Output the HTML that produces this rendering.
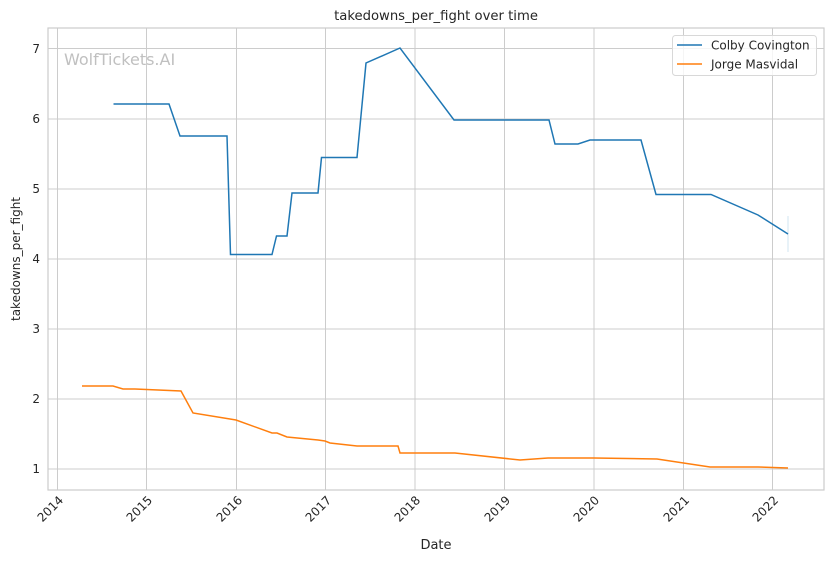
<!DOCTYPE html>
<html><head><meta charset="utf-8"><style>
body{margin:0;background:#fff;}
text{font-family:"DejaVu Sans","Liberation Sans",sans-serif;fill:#262626;}
</style></head><body>
<svg width="832" height="561" viewBox="0 0 832 561" xmlns="http://www.w3.org/2000/svg">
<rect width="832" height="561" fill="#fff"/>
<g stroke="#cccccc" stroke-width="1">
<line x1="57.5" y1="28" x2="57.5" y2="490"/><line x1="146.5" y1="28" x2="146.5" y2="490"/>
<line x1="236.5" y1="28" x2="236.5" y2="490"/><line x1="325.5" y1="28" x2="325.5" y2="490"/>
<line x1="415" y1="28" x2="415" y2="490"/><line x1="504.5" y1="28" x2="504.5" y2="490"/>
<line x1="594" y1="28" x2="594" y2="490"/><line x1="683.5" y1="28" x2="683.5" y2="490"/>
<line x1="772.5" y1="28" x2="772.5" y2="490"/>
<line x1="48" y1="48.5" x2="824" y2="48.5"/><line x1="48" y1="119" x2="824" y2="119"/>
<line x1="48" y1="189" x2="824" y2="189"/><line x1="48" y1="259" x2="824" y2="259"/>
<line x1="48" y1="329" x2="824" y2="329"/><line x1="48" y1="399" x2="824" y2="399"/>
<line x1="48" y1="469" x2="824" y2="469"/>
</g>
<rect x="48" y="28" width="776" height="462" fill="none" stroke="#cccccc" stroke-width="1.2"/>
<text x="64" y="65" font-size="16" style="fill:#c0c0c0">WolfTickets.AI</text>
<polyline fill="none" stroke="#1f77b4" stroke-width="1.5" points="113.5,104 169,104 180,136 227,136 230.5,254.5 272,254.5 276.5,236 287,236 292,193 318,193 321.5,157.5 357,157.5 366,63 400,48 454,120 549,120 555,144 578,144 590,140 641,140 656,194.5 711,194.5 758,215 788,234"/>
<line x1="788" y1="216" x2="788" y2="252" stroke="#1f77b4" stroke-opacity="0.2" stroke-width="1"/>
<polyline fill="none" stroke="#ff7f0e" stroke-width="1.5" points="82,386 113,386 123,389 135,389 181,391 193,413 230,419 236,420 272,433 277,433 287,437 318,440 325,441 330,443 357,446 398,446 400,453 455,453 520,460 548,458 594,458 657,459 710,467 758,467 788,468"/>
<g font-size="12" text-anchor="end">
<text x="40" y="53">7</text><text x="40" y="123">6</text><text x="40" y="193">5</text>
<text x="40" y="263">4</text><text x="40" y="333">3</text><text x="40" y="403">2</text><text x="40" y="473">1</text>
</g>
<g font-size="12" text-anchor="end">
<text transform="translate(64,501) rotate(-45)">2014</text>
<text transform="translate(153,501) rotate(-45)">2015</text>
<text transform="translate(243,501) rotate(-45)">2016</text>
<text transform="translate(332,501) rotate(-45)">2017</text>
<text transform="translate(421,501) rotate(-45)">2018</text>
<text transform="translate(511,501) rotate(-45)">2019</text>
<text transform="translate(600,501) rotate(-45)">2020</text>
<text transform="translate(690,501) rotate(-45)">2021</text>
<text transform="translate(779,501) rotate(-45)">2022</text>
</g>
<text x="436" y="549" font-size="13" text-anchor="middle">Date</text>
<text transform="translate(20,259) rotate(-90)" font-size="12" text-anchor="middle">takedowns_per_fight</text>
<text x="436" y="20" font-size="13.2" text-anchor="middle">takedowns_per_fight over time</text>
<rect x="672.5" y="35.5" width="144" height="40" rx="3" fill="#fff" fill-opacity="0.8" stroke="#d8d8d8"/>
<line x1="677" y1="45" x2="702" y2="45" stroke="#1f77b4" stroke-width="1.5"/>
<text x="711" y="49.5" font-size="12">Colby Covington</text>
<line x1="677" y1="64" x2="702" y2="64" stroke="#ff7f0e" stroke-width="1.5"/>
<text x="711" y="68.5" font-size="12">Jorge Masvidal</text>
</svg>
</body></html>
